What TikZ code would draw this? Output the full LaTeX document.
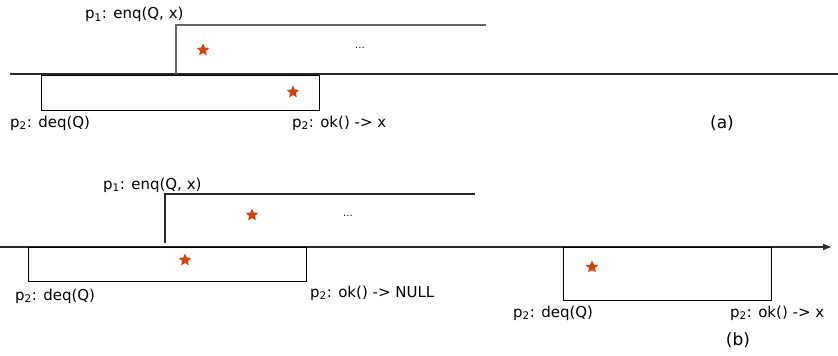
\documentclass[tikz,border=0pt]{standalone}
\usepackage{fontspec}
\setmainfont{DejaVu Sans}
\usetikzlibrary{shapes.geometric,arrows.meta}
\definecolor{starred}{RGB}{208,68,12}
\definecolor{linegray}{RGB}{40,40,40}
\definecolor{enqgray}{RGB}{100,100,100}
\tikzset{
  lbl/.style={anchor=base west,inner sep=0pt,font=\fontsize{15}{17}\selectfont},
  tag/.style={anchor=center,inner sep=0pt,font=\fontsize{17}{19}\selectfont},
  opbox/.style={draw=black,line width=1.3pt,inner sep=0pt,anchor=north west},
  axis/.style={draw=linegray,line width=1.3pt},
  enqline/.style={draw=linegray,line width=1.3pt},
  enqlinea/.style={draw=enqgray,line width=1.3pt},
  ast/.style={star,star points=5,star point ratio=2.1,fill=starred,inner sep=0pt,minimum size=13pt},
  dots/.style={inner sep=0pt,font=\fontsize{10}{12}\selectfont}
}
\begin{document}
\begin{tikzpicture}[x=1pt,y=-1pt]
\useasboundingbox (0,0) rectangle (838,356);
% ---------- (a)
\coordinate (aL) at (10,74);
\coordinate (aR) at (838,74);
\draw[axis] (aL) -- (aR);
\coordinate (aE0) at (176,74);
\coordinate (aE1) at (176,25);
\coordinate (aE2) at (486,25);
\draw[enqlinea] (aE0) -- (aE1) -- (aE2);
\node[opbox,minimum width=278pt,minimum height=35pt] (adeq) at (41,75) {};
\node[ast] (as1) at (203,50) {};
\node[ast] (as2) at (293,92) {};
\node[dots] (adots) at (360,48) {...};
\node[lbl] (aenq) at (85,19) {p\textsubscript{1}: enq(Q, x)};
\node[lbl] (adeqt) at (10,127) {p\textsubscript{2}: deq(Q)};
\node[lbl] (aok) at (292,127) {p\textsubscript{2}: ok() -> x};
\node[tag] (atag) at (722,123) {(a)};
% ---------- (b)
\coordinate (bL) at (0,247);
\coordinate (bR) at (832,247);
\draw[axis,-{Latex[length=9pt,width=7pt]}] (bL) -- (bR);
\coordinate (bE0) at (165,243);
\coordinate (bE1) at (165,194);
\coordinate (bE2) at (475,194);
\draw[enqline] (bE0) -- (bE1) -- (bE2);
\node[opbox,minimum width=278pt,minimum height=34pt] (bdeq) at (28,247) {};
\node[opbox,minimum width=208pt,minimum height=53pt] (bdeq2) at (563,247) {};
\node[ast] (bs1) at (252,215) {};
\node[ast] (bs2) at (185,260) {};
\node[ast] (bs3) at (592,267) {};
\node[dots] (bdots) at (348,216) {...};
\node[lbl] (benq) at (103,189) {p\textsubscript{1}: enq(Q, x)};
\node[lbl] (bdeqt) at (15,300) {p\textsubscript{2}: deq(Q)};
\node[lbl] (bok) at (310,297) {p\textsubscript{2}: ok() -> NULL};
\node[lbl] (bdeqt2) at (513,317) {p\textsubscript{2}: deq(Q)};
\node[lbl] (bok2) at (730,317) {p\textsubscript{2}: ok() -> x};
\node[tag] (btag) at (738,340) {(b)};
\end{tikzpicture}
\end{document}
